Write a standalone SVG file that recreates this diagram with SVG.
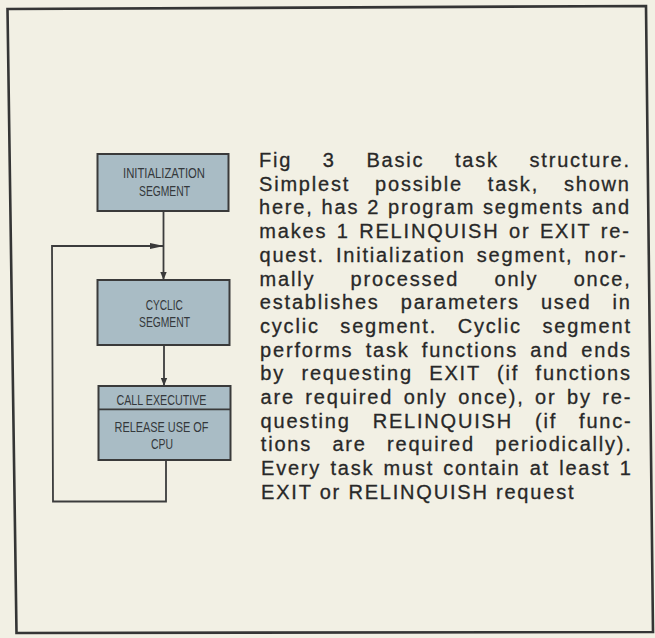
<svg xmlns="http://www.w3.org/2000/svg" width="655" height="638" viewBox="0 0 655 638">
<style>
.bg{fill:#f2f0e4}
.frame{fill:none;stroke:#353535;stroke-width:2.6;stroke-linejoin:miter}
.box{fill:#a9bcc5;stroke:#3a3a3a;stroke-width:2}
.lbl{font-family:"Liberation Sans",Arial,sans-serif;font-size:15.5px;fill:#34383b;text-anchor:middle}
.conn{fill:none;stroke:#3c3c3c;stroke-width:1.8}
.cap{font-family:"Liberation Sans",Arial,sans-serif;font-size:20px;fill:#282828;stroke:#282828;stroke-width:0.3;letter-spacing:1.8px}
</style>
<defs>
<marker id="ah" viewBox="0 0 10 8" refX="10" refY="4" markerWidth="8" markerHeight="7" markerUnits="userSpaceOnUse" orient="auto">
<path d="M0,0 L10,4 L0,8 Z" fill="#3a3a3a"/>
</marker>
<marker id="ahl" viewBox="0 0 10 8" refX="10" refY="4" markerWidth="14" markerHeight="6" markerUnits="userSpaceOnUse" orient="auto" preserveAspectRatio="none">
<path d="M0,0 L10,4 L0,8 Z" fill="#3a3a3a"/>
</marker>
</defs>
<rect class="bg" x="0" y="0" width="655" height="638"/>
<polygon id="frame" class="frame" points="7.5,9 646,6 653,632 16.5,633"/>

<g id="connectors">
<line class="conn" x1="163.5" y1="211" x2="163.5" y2="280" marker-end="url(#ah)"/>
<line class="conn" x1="164" y1="345" x2="164" y2="386" marker-end="url(#ah)"/>
<polyline class="conn" points="166,460 166,501.5 53,501.5 52,246 164,246" marker-end="url(#ahl)"/>
</g>

<g id="init">
<rect class="box" x="97.5" y="154" width="131" height="57"/>
<text class="lbl" x="164" y="178.3" textLength="82" lengthAdjust="spacingAndGlyphs">INITIALIZATION</text>
<text class="lbl" x="164.5" y="196" textLength="51" lengthAdjust="spacingAndGlyphs">SEGMENT</text>
</g>

<g id="cyclic">
<rect class="box" x="97.5" y="280" width="132" height="65"/>
<text class="lbl" x="164.3" y="310" textLength="37" lengthAdjust="spacingAndGlyphs">CYCLIC</text>
<text class="lbl" x="164.5" y="327.3" textLength="51" lengthAdjust="spacingAndGlyphs">SEGMENT</text>
</g>

<g id="exec">
<rect class="box" x="98.5" y="386" width="132" height="74"/>
<line x1="98.5" y1="409.3" x2="230.5" y2="409.3" stroke="#3a3a3a" stroke-width="1.8"/>
<text class="lbl" x="161.5" y="405" textLength="90" lengthAdjust="spacingAndGlyphs">CALL EXECUTIVE</text>
<text class="lbl" x="161.5" y="431.5" textLength="94" lengthAdjust="spacingAndGlyphs">RELEASE USE OF</text>
<text class="lbl" x="162" y="449.3" textLength="22" lengthAdjust="spacingAndGlyphs">CPU</text>
</g>

<g id="caption" class="cap">
<text x="259" y="167" word-spacing="23.3">Fig 3 Basic task structure.</text>
<text x="259" y="190.7" word-spacing="17.6">Simplest possible task, shown</text>
<text x="259" y="214.4" word-spacing="0.6">here, has 2 program segments and</text>
<text x="259.3" y="238.1" word-spacing="2.2">makes 1 RELINQUISH or EXIT re-</text>
<text x="259.5" y="261.8" word-spacing="3.8">quest. Initialization segment, nor-</text>
<text x="259.6" y="285.5" word-spacing="28">mally processed only once,</text>
<text x="259.8" y="309.2" word-spacing="13.7">establishes parameters used in</text>
<text x="260" y="332.9" word-spacing="13.3">cyclic segment. Cyclic segment</text>
<text x="260.1" y="356.6" word-spacing="4.9">performs task functions and ends</text>
<text x="260.3" y="380.3" word-spacing="9.1">by requesting EXIT (if functions</text>
<text x="260.5" y="404" word-spacing="3.2">are required only once), or by re-</text>
<text x="260.6" y="427.7" word-spacing="14.7">questing RELINQUISH (if func-</text>
<text x="260.8" y="451.4" word-spacing="13">tions are required periodically).</text>
<text x="261" y="475.1" word-spacing="1.9">Every task must contain at least 1</text>
<text x="261" y="498.8">EXIT or RELINQUISH request</text>
</g>
</svg>
